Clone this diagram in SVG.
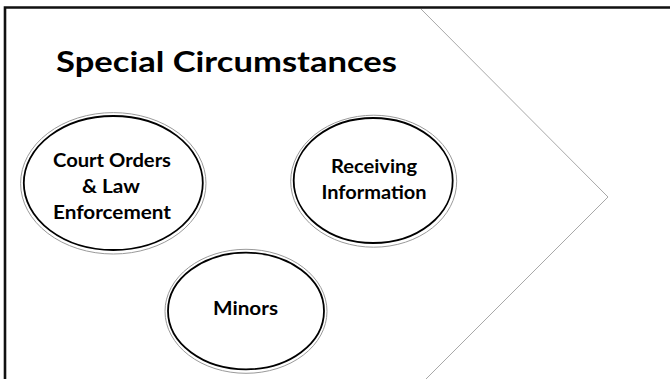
<svg xmlns="http://www.w3.org/2000/svg" width="670" height="379" viewBox="0 0 670 379">
<style>
.frame{stroke:#111;stroke-width:2.6;fill:none}
.chev{stroke:#a8a8a8;stroke-width:1;fill:none}
.outer{fill:#fff;stroke:#9a9a9a;stroke-width:1}
.inner{fill:#fff;stroke:#000;stroke-width:1.8}
.lbl{font-family:Lato,"Liberation Sans",sans-serif;font-weight:bold;font-size:18.5px;fill:#000;text-anchor:middle}
.title{font-family:Lato,"Liberation Sans",sans-serif;font-weight:bold;font-size:29px;fill:#000}
</style>
<rect x="0" y="0" width="670" height="379" fill="#fff"/>
<g id="frame">
<path class="frame" d="M670 7.5 H5 V379"/>
</g>
<g id="chevron">
<path class="chev" d="M421 9 L608 197 L426 379"/>
</g>
<g id="title">
<text class="title" x="56" y="72" textLength="341" lengthAdjust="spacingAndGlyphs">Special Circumstances</text>
</g>
<g id="connectors"></g>
<g id="node-court">
<ellipse class="outer" cx="113.3" cy="183.3" rx="92.7" ry="70.7"/>
<ellipse class="inner" cx="113.3" cy="183" rx="89.5" ry="67"/>
<text class="lbl" x="112" y="167" textLength="118" lengthAdjust="spacingAndGlyphs">Court Orders</text>
<text class="lbl" x="111" y="193" textLength="58" lengthAdjust="spacingAndGlyphs">&amp; Law</text>
<text class="lbl" x="112" y="219" textLength="118" lengthAdjust="spacingAndGlyphs">Enforcement</text>
</g>
<g id="node-receiving">
<ellipse class="outer" cx="373.7" cy="181.2" rx="83" ry="66"/>
<ellipse class="inner" cx="373.2" cy="180.5" rx="79.5" ry="62.5"/>
<text class="lbl" x="374" y="173" textLength="86" lengthAdjust="spacingAndGlyphs">Receiving</text>
<text class="lbl" x="374" y="199" textLength="105" lengthAdjust="spacingAndGlyphs">Information</text>
</g>
<g id="node-minors">
<ellipse class="outer" cx="246" cy="311.3" rx="81" ry="62"/>
<ellipse class="inner" cx="246" cy="311" rx="78" ry="58.3"/>
<text class="lbl" x="245.5" y="315" textLength="65" lengthAdjust="spacingAndGlyphs">Minors</text>
</g>
</svg>
